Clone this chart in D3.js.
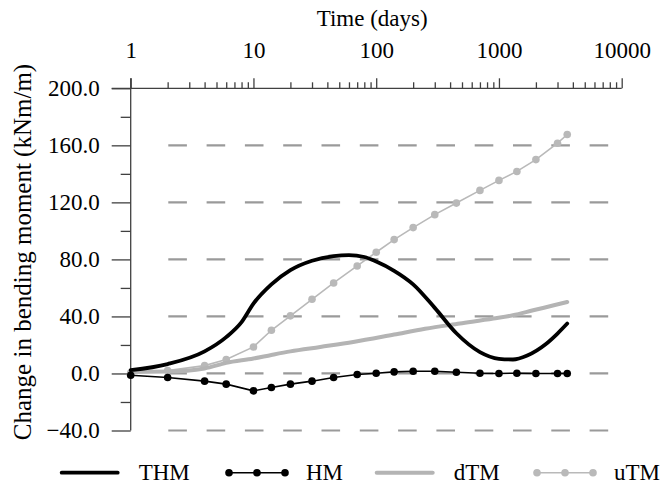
<!DOCTYPE html>
<html>
<head>
<meta charset="utf-8">
<script src="https://cdn.jsdelivr.net/npm/d3@7"></script>
<style>
  html, body { margin: 0; padding: 0; background: #fff; }
  svg { display: block; font-family: "Liberation Serif", "Times New Roman", serif; }
</style>
</head>
<body>
<svg id="chart" width="661" height="484"></svg>
<script>
// Sampling times (days) for the marker series
const days = [1, 2, 4, 6, 10, 14, 20, 30, 45, 70, 100, 140, 200, 300, 450, 700, 1000, 1400, 2000, 3000, 3600];
const hmValues = [-1.2, -2.8, -5.4, -7.5, -12.2, -9.8, -7.5, -5.4, -2.8, -0.7, 0.2, 1.1, 1.6, 1.6, 0.9, 0.2, 0, 0.2, 0, 0, 0];
const utmValues = [0.5, 2, 5.5, 9.8, 18.6, 30.3, 40.4, 52, 63.5, 75.4, 85, 93.9, 102.3, 111.4, 119.5, 128.4, 135.4, 141.7, 150, 161.5, 167.6];

// Smooth series
const thmDays = [1, 2, 4, 6, 8, 10, 14, 20, 30, 45, 60, 80, 100, 140, 200, 300, 450, 700, 1000, 1300, 1700, 2400, 3000, 3600];
const thmValues = [2.3, 6.6, 15.5, 25.5, 36, 49, 62.5, 72.5, 79.1, 82.3, 83, 81.7, 78.5, 72, 62.5, 46, 28.2, 15, 10.3, 9.8, 12.6, 20.5, 28, 35];
const dtmDays = [1, 2, 4, 6, 10, 14, 20, 35, 65, 140, 250, 480, 900, 1300, 1900, 2800, 3600];
const dtmValues = [1.1, 1.3, 3.5, 7.4, 10.5, 13, 15.5, 18.6, 22.1, 27.3, 31.3, 35, 38.5, 40.8, 44.3, 47.8, 50.1];

// Axis ticks
const xMajorTicks = [1, 10, 100, 1000, 10000];
const yMajorTicks = [-40, 0, 40, 80, 120, 160, 200];
const yMinorTicks = [-20, 20, 60, 100, 140, 180];
const gridValues = [-40, 0, 40, 80, 120, 160];

const seriesNames = ["THM", "HM", "dTM", "uTM"];

const svg = d3.select("#chart");
const FONT = 23;
const SERIF = "Liberation Serif, Times New Roman, serif";
const axisColor = "#404040";

const x = d3.scaleLog().domain([1, 10000]).range([130.7, 621.7]);
const y = d3.scaleLinear().domain([-40, 200]).range([430.5, 88.3]);

// Dashed gridlines
const gridStart = x.range()[0] + 19;
svg.append("g").selectAll("line").data(gridValues).join("line")
  .attr("x1", gridStart).attr("x2", x.range()[1])
  .attr("y1", d => y(d)).attr("y2", d => y(d))
  .attr("stroke", "#9a9a9a").attr("stroke-width", 2.2)
  .attr("stroke-dasharray", "18.6 19.7")
  .attr("stroke-dashoffset", 19.7);

// Minor x ticks (2..9 in each decade)
const xMinor = [];
for (let dec = 1; dec < 10000; dec *= 10) for (let k = 2; k <= 9; k++) xMinor.push(dec * k);

const gxMinor = svg.append("g").attr("transform", `translate(0,${y(200)})`)
  .call(d3.axisTop(x).tickValues(xMinor).tickSize(6).tickFormat(""));
gxMinor.select(".domain").remove();
gxMinor.selectAll("line").attr("stroke", axisColor).attr("stroke-width", 1.3);

const gx = svg.append("g").attr("transform", `translate(0,${y(200)})`)
  .call(d3.axisTop(x).tickValues(xMajorTicks).tickSize(10).tickPadding(20).tickFormat(d3.format("d")));
gx.select(".domain").remove();
gx.selectAll("line").attr("stroke", axisColor).attr("stroke-width", 1.3);
gx.selectAll("text").attr("font-size", FONT).attr("fill", "#000").attr("font-family", SERIF);

// Y ticks
const gyMinor = svg.append("g").attr("transform", `translate(${x(1)},0)`)
  .call(d3.axisLeft(y).tickValues(yMinorTicks).tickSize(10).tickFormat(""));
gyMinor.select(".domain").remove();
gyMinor.selectAll("line").attr("stroke", axisColor).attr("stroke-width", 1.3);

const gy = svg.append("g").attr("transform", `translate(${x(1)},0)`)
  .call(d3.axisLeft(y).tickValues(yMajorTicks).tickSize(19).tickPadding(12).tickFormat(d3.format(".1f")));
gy.select(".domain").remove();
gy.selectAll("line").attr("stroke", axisColor).attr("stroke-width", 1.3);
gy.selectAll("text").attr("font-size", FONT).attr("fill", "#000").attr("font-family", SERIF);

// Axis lines
svg.append("line")
  .attr("x1", x(1) - 19).attr("x2", x(10000))
  .attr("y1", y(200)).attr("y2", y(200))
  .attr("stroke", axisColor).attr("stroke-width", 1.3);
svg.append("line")
  .attr("x1", x(1)).attr("x2", x(1))
  .attr("y1", y(200) - 10).attr("y2", y(-40))
  .attr("stroke", axisColor).attr("stroke-width", 1.3);

// Axis titles
svg.append("text")
  .attr("x", (x.range()[0] + x.range()[1]) / 2 - 4).attr("y", 26)
  .attr("text-anchor", "middle").attr("font-size", FONT)
  .text("Time (days)");
svg.append("text")
  .attr("transform", `translate(31,${252}) rotate(-90)`)
  .attr("text-anchor", "middle").attr("font-size", 25)
  .text("Change in bending moment (kNm/m)");

// Series
const smooth = d3.line().x(d => x(d[0])).y(d => y(d[1])).curve(d3.curveMonotoneX);
const straight = d3.line().x(d => x(d[0])).y(d => y(d[1]));

const dtmData = d3.zip(dtmDays, dtmValues);
const thmData = d3.zip(thmDays, thmValues);
const hmData = d3.zip(days, hmValues);
const utmData = d3.zip(days, utmValues);

const styles = {
  THM: { color: "#000", width: 3.8, marker: false },
  HM: { color: "#000", width: 1.6, marker: true },
  dTM: { color: "#b4b4b4", width: 4, marker: false },
  uTM: { color: "#b9b9b9", width: 1.6, marker: true }
};

// uTM
svg.append("path").datum(utmData)
  .attr("d", straight).attr("fill", "none")
  .attr("stroke", styles.uTM.color).attr("stroke-width", styles.uTM.width);
svg.append("g").selectAll("circle").data(utmData).join("circle")
  .attr("cx", d => x(d[0])).attr("cy", d => y(d[1])).attr("r", 3.8)
  .attr("fill", styles.uTM.color);

// dTM
svg.append("path").datum(dtmData)
  .attr("d", smooth).attr("fill", "none")
  .attr("stroke", styles.dTM.color).attr("stroke-width", styles.dTM.width)
  .attr("stroke-linecap", "round");

// HM
svg.append("path").datum(hmData)
  .attr("d", straight).attr("fill", "none")
  .attr("stroke", styles.HM.color).attr("stroke-width", styles.HM.width);
svg.append("g").selectAll("circle").data(hmData).join("circle")
  .attr("cx", d => x(d[0])).attr("cy", d => y(d[1])).attr("r", 3.8)
  .attr("fill", styles.HM.color);

// THM
svg.append("path").datum(thmData)
  .attr("d", smooth).attr("fill", "none")
  .attr("stroke", styles.THM.color).attr("stroke-width", styles.THM.width)
  .attr("stroke-linecap", "round");

// Legend
const legendX = [61.7, 229, 376.7, 537];
const legendY = 472.7;
const legendLineLen = 56;
const legend = svg.append("g");
seriesNames.forEach((name, i) => {
  const s = styles[name];
  const lx = legendX[i];
  const g = legend.append("g");
  g.append("line")
    .attr("x1", lx).attr("x2", lx + legendLineLen)
    .attr("y1", legendY).attr("y2", legendY)
    .attr("stroke", s.color).attr("stroke-width", s.width)
    .attr("stroke-linecap", s.marker ? "butt" : "round");
  if (s.marker) {
    [0, 0.5, 1].forEach(f => {
      g.append("circle")
        .attr("cx", lx + f * legendLineLen).attr("cy", legendY).attr("r", 3.8)
        .attr("fill", s.color);
    });
  }
  g.append("text")
    .attr("x", lx + legendLineLen + 21).attr("y", legendY + 7)
    .attr("font-size", FONT).attr("fill", "#000")
    .text(name);
});
</script>
</body>
</html>
